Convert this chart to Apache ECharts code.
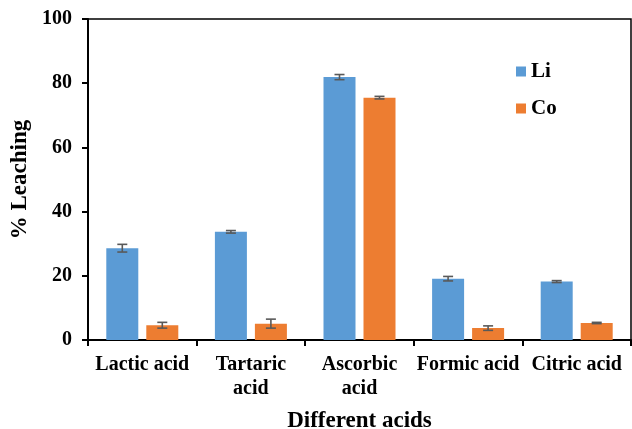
<!DOCTYPE html>
<html><head><meta charset="utf-8">
<script src="https://cdn.jsdelivr.net/npm/echarts@6/dist/echarts.min.js"></script>
<style>html,body{margin:0;padding:0;background:#fff}#c{width:632px;height:429px}</style>
</head><body><div id="c"></div>
<script>
const categories = ['Lactic acid', 'Tartaric\nacid', 'Ascorbic\nacid', 'Formic acid', 'Citric acid'];
const liValues = [28.6, 33.7, 81.9, 19.1, 18.2];
const coValues = [4.6, 5.1, 75.5, 3.7, 5.3];
const liErrors = [1.2, 0.4, 0.8, 0.7, 0.3];
const coErrors = [0.9, 1.4, 0.4, 0.7, 0.2];
const yTicks = [0, 20, 40, 60, 80, 100];

const BAR_W = 32, BAR_GAP = 8;
const font = 'Liberation Serif, Times New Roman, serif';

function errSeries(vals, errs, offset) {
  return {
    type: 'custom',
    z: 10,
    data: vals.map((v, i) => [i, v - errs[i], v + errs[i]]),
    renderItem: function (params, api) {
      const lo = api.coord([api.value(0), api.value(1)]);
      const hi = api.coord([api.value(0), api.value(2)]);
      const x = lo[0] + offset, cw = 5;
      const st = { stroke: '#595959', lineWidth: 1.6 };
      return { type: 'group', children: [
        { type: 'line', shape: { x1: x, y1: lo[1], x2: x, y2: hi[1] }, style: st },
        { type: 'line', shape: { x1: x - cw, y1: lo[1], x2: x + cw, y2: lo[1] }, style: st },
        { type: 'line', shape: { x1: x - cw, y1: hi[1], x2: x + cw, y2: hi[1] }, style: st }
      ]};
    }
  };
}

const chart = echarts.init(document.getElementById('c'));
chart.setOption({
  animation: false,
  grid: { left: 88, right: 1, top: 19, bottom: 89, show: true, borderColor: '#000', borderWidth: 1.5,
    containLabel: false, outerBoundsMode: 'none' },
  legend: {
    data: ['Li', 'Co'], orient: 'vertical', left: 511, top: 56, icon: 'rect',
    itemWidth: 10, itemHeight: 10, itemGap: 16,
    textStyle: { fontFamily: font, fontWeight: 'bold', fontSize: 21, color: '#000' }
  },
  xAxis: {
    type: 'category', data: categories,
    name: 'Different acids', nameLocation: 'middle', nameGap: 70,
    nameTextStyle: { fontFamily: font, fontWeight: 'bold', fontSize: 23, color: '#000' },
    axisLine: { lineStyle: { color: '#000', width: 2 } },
    axisTick: { show: true, length: 6, inside: false, lineStyle: { color: '#000', width: 2 } },
    axisLabel: { fontFamily: font, fontWeight: 'bold', fontSize: 20, color: '#000', margin: 13, lineHeight: 24, interval: 0 }
  },
  yAxis: {
    type: 'value', min: 0, max: 100, interval: 20,
    name: '% Leaching', nameLocation: 'middle', nameGap: 50,
    nameTextStyle: { fontFamily: font, fontWeight: 'bold', fontSize: 23, color: '#000' },
    axisLine: { show: true, lineStyle: { color: '#000', width: 2 } },
    axisTick: { show: true, length: 6, lineStyle: { color: '#000', width: 2 } },
    axisLabel: { fontFamily: font, fontWeight: 'bold', fontSize: 20, color: '#000', margin: 16,
      formatter: v => yTicks.includes(v) ? String(v) : '' },
    splitLine: { show: false }
  },
  series: [
    { name: 'Li', type: 'bar', data: liValues, barWidth: BAR_W, barGap: (BAR_GAP / BAR_W * 100) + '%',
      itemStyle: { color: '#5B9BD5' } },
    { name: 'Co', type: 'bar', data: coValues, barWidth: BAR_W,
      itemStyle: { color: '#ED7D31' } },
    errSeries(liValues, liErrors, -(BAR_W + BAR_GAP) / 2),
    errSeries(coValues, coErrors, (BAR_W + BAR_GAP) / 2)
  ]
});
</script></body></html>
